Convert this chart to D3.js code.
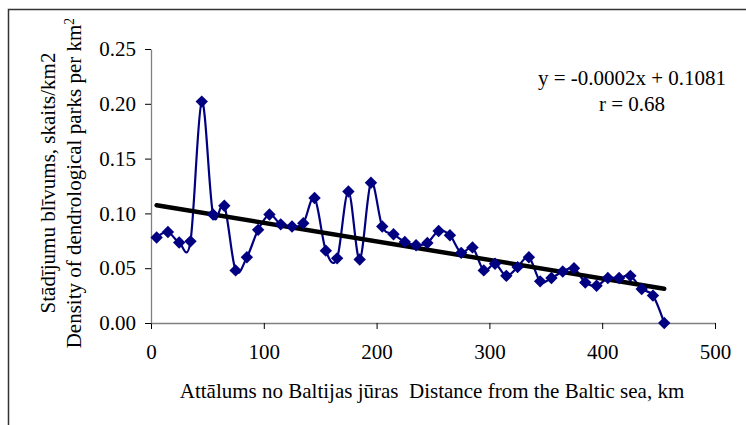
<!DOCTYPE html>
<html>
<head>
<meta charset="utf-8">
<script src="https://cdn.jsdelivr.net/npm/d3@7"></script>
<style>
  body { margin: 0; background: #fff; }
  svg { display: block; }
</style>
</head>
<body>
<svg id="chart" width="746" height="425"></svg>
<script>
// distance from the Baltic sea, km (class midpoints)
var distance = [5, 15, 25, 35, 45, 55, 65, 75, 85, 95,
    105, 115, 125, 135, 145, 155, 165, 175, 185, 195,
    205, 215, 225, 235, 245, 255, 265, 275, 285, 295,
    305, 315, 325, 335, 345, 355, 365, 375, 385, 395,
    405, 415, 425, 435, 445, 455]
// density of dendrological parks per km2
var density = [0.078, 0.083, 0.0735, 0.0745, 0.202, 0.099, 0.107, 0.048, 0.060, 0.085,
    0.099, 0.090, 0.088, 0.091, 0.114, 0.066, 0.059, 0.120, 0.058, 0.128,
    0.088, 0.081, 0.074, 0.071, 0.073, 0.084, 0.080, 0.064, 0.069, 0.048,
    0.054, 0.043, 0.051, 0.060, 0.038, 0.041, 0.047, 0.050, 0.037, 0.034,
    0.041, 0.041, 0.043, 0.031, 0.025, 0.000]
var xTicks = [0, 100, 200, 300, 400, 500]
var yTicks = [0, 0.05, 0.10, 0.15, 0.20, 0.25]
var equationText = ["y = -0.0002x + 0.1081", "r = 0.68"]

var serif = "'Liberation Serif', 'Times New Roman', serif"
var fs = 21

var svg = d3.select('#chart')
var margin = { top: 49, right: 31, bottom: 102, left: 151 },
    width = 746 - margin.left - margin.right,
    height = 425 - margin.top - margin.bottom

var points = distance.map(function (d, i) { return { x: d, y: density[i] } })

// outer frame (only top and left edges are in view)
svg.append('path')
    .attr('d', 'M8.5,425V9.5H746')
    .attr('fill', 'none')
    .attr('stroke', '#333')
    .attr('stroke-width', 1.5)

var g = svg.append('g')
    .attr('transform', 'translate(' + margin.left + ',' + margin.top + ')')

var x = d3.scaleLinear().domain([0, 500]).range([0, width])
var y = d3.scaleLinear().domain([0, 0.25]).range([height, 0])

var xAxis = d3.axisBottom(x).tickValues(xTicks).tickSize(6).tickSizeOuter(0)
    .tickFormat(d3.format('d'))
var yAxis = d3.axisLeft(y).tickValues(yTicks).tickSize(6).tickSizeOuter(0)
    .tickFormat(d3.format('.2f'))

var gx = g.append('g')
    .attr('transform', 'translate(0,' + height + ')')
    .call(xAxis)
var gy = g.append('g').call(yAxis)

;[gx, gy].forEach(function (a) {
    a.select('.domain').attr('stroke', '#808080').attr('stroke-width', 1.3)
    a.selectAll('.tick line').attr('stroke', '#000')
    a.selectAll('.tick text')
        .style('font-family', serif)
        .style('font-size', fs + 'px')
        .attr('fill', '#000')
})
gx.selectAll('.tick text').attr('dy', '1.3em')
gy.selectAll('.tick text').attr('x', -15)

// least squares trend line
var mx = d3.mean(distance), my = d3.mean(density)
var sxy = d3.sum(points, function (p) { return (p.x - mx) * (p.y - my) })
var sxx = d3.sum(points, function (p) { return (p.x - mx) * (p.x - mx) })
var slope = sxy / sxx, icpt = my - slope * mx
var xEnds = d3.extent(distance)

var line = d3.line()
    .x(function (d) { return x(d.x) })
    .y(function (d) { return y(d.y) })
    .curve(d3.curveCatmullRom.alpha(0))

g.append('path')
    .datum(points)
    .attr('d', line)
    .attr('fill', 'none')
    .attr('stroke', '#000080')
    .attr('stroke-width', 2.2)

g.append('line')
    .attr('x1', x(xEnds[0])).attr('y1', y(icpt + slope * xEnds[0]))
    .attr('x2', x(xEnds[1])).attr('y2', y(icpt + slope * xEnds[1]))
    .attr('stroke', '#000')
    .attr('stroke-width', 4.5)
    .attr('stroke-linecap', 'round')

g.selectAll('.pt')
    .data(points)
    .enter()
    .append('path')
    .attr('class', 'pt')
    .attr('transform', function (d) { return 'translate(' + x(d.x) + ',' + y(d.y) + ')' })
    .attr('d', 'M0,-6.2L6.2,0L0,6.2L-6.2,0Z')
    .attr('fill', '#000080')

// regression equation
svg.selectAll('.eq')
    .data(equationText)
    .enter()
    .append('text')
    .attr('class', 'eq')
    .attr('x', 632)
    .attr('y', function (d, i) { return 85 + i * 26 })
    .attr('text-anchor', 'middle')
    .style('font-family', serif)
    .style('font-size', fs + 'px')
    .text(function (d) { return d })

// axis titles
svg.append('text')
    .attr('x', 432)
    .attr('y', 398)
    .attr('text-anchor', 'middle')
    .style('font-family', serif)
    .style('font-size', fs + 'px')
    .style('white-space', 'pre')
    .text('Attālums no Baltijas jūras  Distance from the Baltic sea, km')

svg.append('clipPath').attr('id', 'ylabclip')
    .append('rect').attr('x', 0).attr('y', 19).attr('width', 140).attr('height', 400)

var ylab = svg.append('g').attr('clip-path', 'url(#ylabclip)')
    .append('text')
    .attr('transform', 'translate(0,183) rotate(-90)')
    .attr('text-anchor', 'middle')
    .style('font-family', serif)
    .style('font-size', fs + 'px')
ylab.append('tspan').attr('x', 0).attr('y', 55).text('Stādījumu blīvums, skaits/km2')
ylab.append('tspan').attr('x', 0).attr('y', 81)
    .text('Density of dendrological parks per km')
ylab.append('tspan').attr('dy', -7).style('font-size', '14px').text('2')
</script>
</body>
</html>
